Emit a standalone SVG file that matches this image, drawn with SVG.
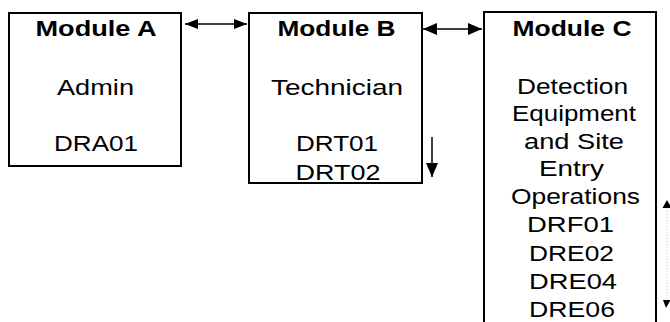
<svg xmlns="http://www.w3.org/2000/svg" width="670" height="322" viewBox="0 0 670 322">
<style>
.box{fill:#fff;stroke:#000;stroke-width:2}
.t{font-family:"Liberation Sans",Arial,sans-serif;font-size:22px;fill:#000;text-anchor:middle}
.b{font-weight:bold}
.c{stroke:#000;stroke-width:1.5;fill:none}
.f{stroke:#bbb;stroke-width:1;stroke-dasharray:1 2;fill:none}
</style>
<defs>
<marker id="ah" viewBox="0 0 13 10" refX="13" refY="5" markerWidth="13" markerHeight="10" markerUnits="userSpaceOnUse" orient="auto-start-reverse"><path d="M0,0 L13,5 L0,10 Z" fill="#000"/></marker>
<marker id="ahb" viewBox="0 0 14 12" refX="14" refY="6" markerWidth="14" markerHeight="12" markerUnits="userSpaceOnUse" orient="auto-start-reverse"><path d="M0,0 L14,6 L0,12 Z" fill="#000"/></marker>
</defs>
<rect width="670" height="322" fill="#fff"/>
<g id="moduleA">
<rect class="box" x="9" y="13" width="172" height="153"/>
<text class="t b" x="96" y="36" textLength="121" lengthAdjust="spacingAndGlyphs">Module A</text>
<text class="t" x="95.5" y="95" textLength="77" lengthAdjust="spacingAndGlyphs">Admin</text>
<text class="t" x="96" y="151" textLength="84" lengthAdjust="spacingAndGlyphs">DRA01</text>
</g>
<g id="moduleB">
<rect class="box" x="249" y="13" width="173" height="170"/>
<text class="t b" x="336.5" y="36" textLength="118" lengthAdjust="spacingAndGlyphs">Module B</text>
<text class="t" x="337" y="95" textLength="132" lengthAdjust="spacingAndGlyphs">Technician</text>
<text class="t" x="337" y="151" textLength="82" lengthAdjust="spacingAndGlyphs">DRT01</text>
<text class="t" x="338" y="180" textLength="85" lengthAdjust="spacingAndGlyphs">DRT02</text>
</g>
<g id="moduleC">
<rect class="box" x="484" y="12" width="172" height="320"/>
<text class="t b" x="572" y="36" textLength="119" lengthAdjust="spacingAndGlyphs">Module C</text>
<text class="t" x="572.5" y="94" textLength="111" lengthAdjust="spacingAndGlyphs">Detection</text>
<text class="t" x="574" y="121" textLength="124" lengthAdjust="spacingAndGlyphs">Equipment</text>
<text class="t" x="574" y="149" textLength="100" lengthAdjust="spacingAndGlyphs">and Site</text>
<text class="t" x="571.5" y="176" textLength="65" lengthAdjust="spacingAndGlyphs">Entry</text>
<text class="t" x="575.5" y="204" textLength="129" lengthAdjust="spacingAndGlyphs">Operations</text>
<text class="t" x="570.5" y="232" textLength="87" lengthAdjust="spacingAndGlyphs">DRF01</text>
<text class="t" x="571.5" y="261" textLength="85" lengthAdjust="spacingAndGlyphs">DRE02</text>
<text class="t" x="573" y="289" textLength="88" lengthAdjust="spacingAndGlyphs">DRE04</text>
<text class="t" x="572" y="317" textLength="86" lengthAdjust="spacingAndGlyphs">DRE06</text>
</g>
<g id="connectors">
<line class="c" x1="185" y1="24" x2="247" y2="24" marker-start="url(#ah)" marker-end="url(#ah)"/>
<line class="c" x1="423" y1="29" x2="482" y2="29" marker-start="url(#ahb)" marker-end="url(#ahb)"/>
<line class="c" x1="432" y1="137" x2="432" y2="177" marker-end="url(#ahb)"/>
<line class="f" x1="667" y1="205" x2="667" y2="302"/>
<path d="M667,200 L671.5,208 L662.5,208 Z" fill="#000"/>
<path d="M666,308 L670.5,300 L663,300 Z" fill="#000"/>
</g>
</svg>
